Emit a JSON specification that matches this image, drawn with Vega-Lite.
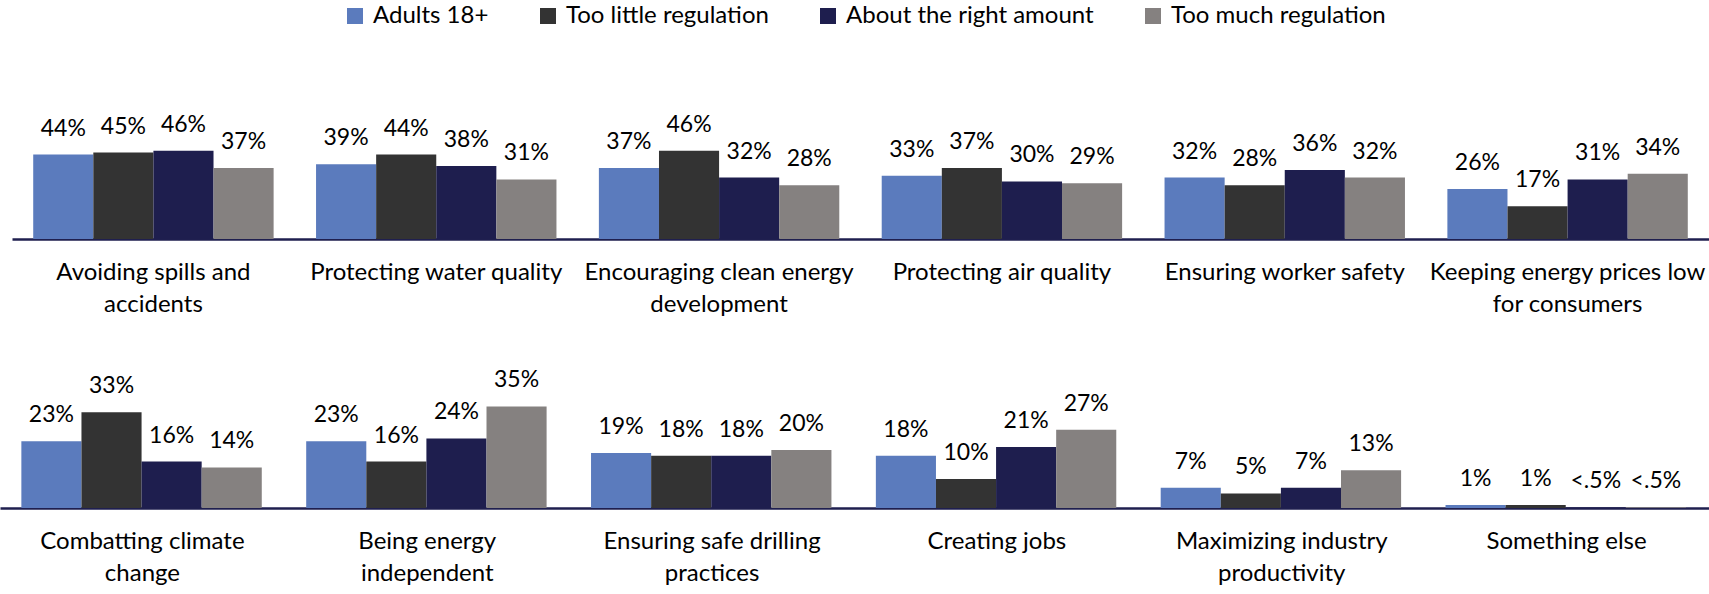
{
  "$schema": "https://vega.github.io/schema/vega-lite/v6.json",
  "padding": 0,
  "background": "white",
  "config": {
    "view": {"stroke": null},
    "font": "Lato",
    "axis": {
      "domainColor": "#1f1f4f",
      "domainWidth": 2.5,
      "ticks": false,
      "tickSize": 0,
      "grid": false,
      "labelPadding": 21,
      "labelFont": "Lato",
      "labelFontSize": 24,
      "labelColor": "#000000",
      "labelLineHeight": 32,
      "labelLimit": 400,
      "labelOverlap": false,
      "labelBound": false,
      "labelAngle": 0
    },
    "legend": {
      "title": null,
      "symbolType": "square",
      "symbolSize": 256,
      "symbolStrokeWidth": 0,
      "labelFont": "Lato",
      "labelFontSize": 24,
      "labelColor": "#000000",
      "labelOffset": 6,
      "columnPadding": 47,
      "labelLimit": 400
    }
  },
  "datasets": {
    "top": [
      {"topic": "Avoiding spills and\naccidents", "opinion": "Adults 18+", "value": 44, "label": "44%"},
      {"topic": "Avoiding spills and\naccidents", "opinion": "Too little regulation", "value": 45, "label": "45%"},
      {"topic": "Avoiding spills and\naccidents", "opinion": "About the right amount", "value": 46, "label": "46%"},
      {"topic": "Avoiding spills and\naccidents", "opinion": "Too much regulation", "value": 37, "label": "37%"},
      {"topic": "Protecting water quality", "opinion": "Adults 18+", "value": 39, "label": "39%"},
      {"topic": "Protecting water quality", "opinion": "Too little regulation", "value": 44, "label": "44%"},
      {"topic": "Protecting water quality", "opinion": "About the right amount", "value": 38, "label": "38%"},
      {"topic": "Protecting water quality", "opinion": "Too much regulation", "value": 31, "label": "31%"},
      {"topic": "Encouraging clean energy\ndevelopment", "opinion": "Adults 18+", "value": 37, "label": "37%"},
      {"topic": "Encouraging clean energy\ndevelopment", "opinion": "Too little regulation", "value": 46, "label": "46%"},
      {"topic": "Encouraging clean energy\ndevelopment", "opinion": "About the right amount", "value": 32, "label": "32%"},
      {"topic": "Encouraging clean energy\ndevelopment", "opinion": "Too much regulation", "value": 28, "label": "28%"},
      {"topic": "Protecting air quality", "opinion": "Adults 18+", "value": 33, "label": "33%"},
      {"topic": "Protecting air quality", "opinion": "Too little regulation", "value": 37, "label": "37%"},
      {"topic": "Protecting air quality", "opinion": "About the right amount", "value": 30, "label": "30%"},
      {"topic": "Protecting air quality", "opinion": "Too much regulation", "value": 29, "label": "29%"},
      {"topic": "Ensuring worker safety", "opinion": "Adults 18+", "value": 32, "label": "32%"},
      {"topic": "Ensuring worker safety", "opinion": "Too little regulation", "value": 28, "label": "28%"},
      {"topic": "Ensuring worker safety", "opinion": "About the right amount", "value": 36, "label": "36%"},
      {"topic": "Ensuring worker safety", "opinion": "Too much regulation", "value": 32, "label": "32%"},
      {"topic": "Keeping energy prices low\nfor consumers", "opinion": "Adults 18+", "value": 26, "label": "26%"},
      {"topic": "Keeping energy prices low\nfor consumers", "opinion": "Too little regulation", "value": 17, "label": "17%"},
      {"topic": "Keeping energy prices low\nfor consumers", "opinion": "About the right amount", "value": 31, "label": "31%"},
      {"topic": "Keeping energy prices low\nfor consumers", "opinion": "Too much regulation", "value": 34, "label": "34%"}
    ],
    "bottom": [
      {"topic": "Combatting climate\nchange", "opinion": "Adults 18+", "value": 23, "label": "23%"},
      {"topic": "Combatting climate\nchange", "opinion": "Too little regulation", "value": 33, "label": "33%"},
      {"topic": "Combatting climate\nchange", "opinion": "About the right amount", "value": 16, "label": "16%"},
      {"topic": "Combatting climate\nchange", "opinion": "Too much regulation", "value": 14, "label": "14%"},
      {"topic": "Being energy\nindependent", "opinion": "Adults 18+", "value": 23, "label": "23%"},
      {"topic": "Being energy\nindependent", "opinion": "Too little regulation", "value": 16, "label": "16%"},
      {"topic": "Being energy\nindependent", "opinion": "About the right amount", "value": 24, "label": "24%"},
      {"topic": "Being energy\nindependent", "opinion": "Too much regulation", "value": 35, "label": "35%"},
      {"topic": "Ensuring safe drilling\npractices", "opinion": "Adults 18+", "value": 19, "label": "19%"},
      {"topic": "Ensuring safe drilling\npractices", "opinion": "Too little regulation", "value": 18, "label": "18%"},
      {"topic": "Ensuring safe drilling\npractices", "opinion": "About the right amount", "value": 18, "label": "18%"},
      {"topic": "Ensuring safe drilling\npractices", "opinion": "Too much regulation", "value": 20, "label": "20%"},
      {"topic": "Creating jobs", "opinion": "Adults 18+", "value": 18, "label": "18%"},
      {"topic": "Creating jobs", "opinion": "Too little regulation", "value": 10, "label": "10%"},
      {"topic": "Creating jobs", "opinion": "About the right amount", "value": 21, "label": "21%"},
      {"topic": "Creating jobs", "opinion": "Too much regulation", "value": 27, "label": "27%"},
      {"topic": "Maximizing industry\nproductivity", "opinion": "Adults 18+", "value": 7, "label": "7%"},
      {"topic": "Maximizing industry\nproductivity", "opinion": "Too little regulation", "value": 5, "label": "5%"},
      {"topic": "Maximizing industry\nproductivity", "opinion": "About the right amount", "value": 7, "label": "7%"},
      {"topic": "Maximizing industry\nproductivity", "opinion": "Too much regulation", "value": 13, "label": "13%"},
      {"topic": "Something else", "opinion": "Adults 18+", "value": 1, "label": "1%"},
      {"topic": "Something else", "opinion": "Too little regulation", "value": 1, "label": "1%"},
      {"topic": "Something else", "opinion": "About the right amount", "value": 0.3, "label": "<.5%"},
      {"topic": "Something else", "opinion": "Too much regulation", "value": 0.3, "label": "<.5%"}
    ]
  },
  "spacing": 22,
  "vconcat": [
    {
      "data": {"name": "top"},
      "width": 1709,
      "height": 239,
      "encoding": {
        "x": {
          "field": "topic",
          "type": "nominal",
          "sort": null,
          "title": null,
          "scale": {"range": [12, 1709], "paddingInner": 0.15, "paddingOuter": 0.075},
          "axis": {"labelExpr": "split(datum.label, '\\n')"}
        },
        "xOffset": {
          "field": "opinion",
          "type": "nominal",
          "sort": ["Adults 18+", "Too little regulation", "About the right amount", "Too much regulation"]
        },
        "y": {"field": "value", "type": "quantitative", "scale": {"domain": [0, 124.5]}, "axis": null}
      },
      "layer": [
        {
          "mark": {"type": "bar"},
          "encoding": {
            "color": {
              "field": "opinion",
              "type": "nominal",
              "scale": {
                "domain": ["Adults 18+", "Too little regulation", "About the right amount", "Too much regulation"],
                "range": ["#5b7bbd", "#333333", "#1e1e4e", "#858180"]
              },
              "legend": {"orient": "none", "direction": "horizontal", "legendX": 343, "legendY": 4}
            }
          }
        },
        {
          "mark": {"type": "text", "baseline": "alphabetic", "dy": -19, "fontSize": 23, "font": "Lato", "color": "#000000"},
          "encoding": {"text": {"field": "label"}}
        }
      ]
    },
    {
      "data": {"name": "bottom"},
      "width": 1709,
      "height": 170,
      "encoding": {
        "x": {
          "field": "topic",
          "type": "nominal",
          "sort": null,
          "title": null,
          "scale": {"paddingInner": 0.15, "paddingOuter": 0.075},
          "axis": {"labelExpr": "split(datum.label, '\\n')"}
        },
        "xOffset": {
          "field": "opinion",
          "type": "nominal",
          "sort": ["Adults 18+", "Too little regulation", "About the right amount", "Too much regulation"]
        },
        "y": {"field": "value", "type": "quantitative", "scale": {"domain": [0, 58.6]}, "axis": null}
      },
      "layer": [
        {
          "mark": {"type": "bar"},
          "encoding": {
            "color": {"field": "opinion", "type": "nominal"}
          }
        },
        {
          "mark": {"type": "text", "baseline": "alphabetic", "dy": -19, "fontSize": 23, "font": "Lato", "color": "#000000"},
          "encoding": {"text": {"field": "label"}}
        }
      ]
    }
  ]
}
